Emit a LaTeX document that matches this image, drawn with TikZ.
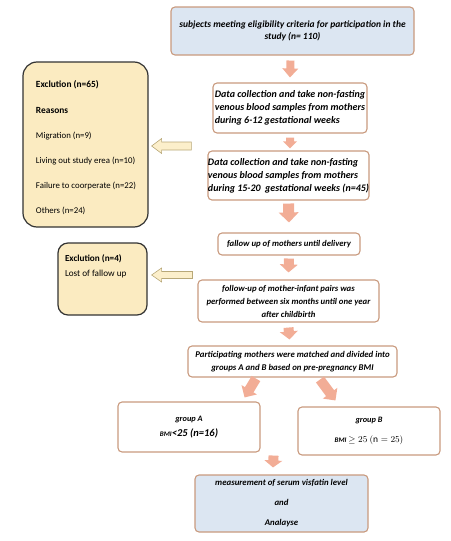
\documentclass[tikz,border=0pt]{standalone}
\usepackage{fontspec}
\setmainfont{Carlito}
\usetikzlibrary{calc}
\definecolor{blueF}{HTML}{DCE6F2}
\definecolor{tanB}{HTML}{C99A7E}
\definecolor{yelF}{HTML}{FBEBC1}
\definecolor{salm}{HTML}{F2AD96}
\definecolor{holF}{HTML}{FCEFCB}
\definecolor{holB}{HTML}{B8A878}
\newcommand{\fatarr}[6]{% style, start, end, shaft half width, head half width, head length
  \path[#1] let \p1=(#2), \p2=(#3), \n1={atan2(\y2-\y1,\x2-\x1)} in
    ($(\p1)+({\n1+90}:#4pt)$) -- ($(\p2)+({\n1}:-#6pt)+({\n1+90}:#4pt)$)
    -- ($(\p2)+({\n1}:-#6pt)+({\n1+90}:#5pt)$) -- (\p2)
    -- ($(\p2)+({\n1}:-#6pt)+({\n1-90}:#5pt)$) -- ($(\p2)+({\n1}:-#6pt)+({\n1-90}:#4pt)$)
    -- ($(\p1)+({\n1-90}:#4pt)$) -- cycle;}
\tikzset{
  mainbox/.style={draw=tanB, line width=1.1pt, rounded corners=4pt, fill=white,
    inner sep=0pt, align=center, font=\bfseries\itshape\fontsize{8.7}{13}\selectfont},
  bluebox/.style={mainbox, fill=blueF},
  exbox/.style={draw=black!80, line width=1.2pt, fill=yelF, inner sep=0pt},
  salmarrow/.style={fill=salm},
  holarrow/.style={fill=holF, draw=holB, line width=0.6pt},
}
\begin{document}
\begin{tikzpicture}[x=1pt,y=-1pt]
\useasboundingbox (0,0) rectangle (450,541);
% main column
\node[bluebox, minimum width=243pt, minimum height=48pt, font=\bfseries\itshape\fontsize{9.5}{12}\selectfont] (top) at (292.5,31)
  {subjects meeting eligibility criteria for participation in the\\study (n= 110)};
\node[mainbox, minimum width=154pt, minimum height=50pt, align=left, font=\bfseries\itshape\fontsize{10}{13}\selectfont] (b2) at (290,108)
  {Data collection and take non-fasting\\venous blood samples from mothers\\during 6-12 gestational weeks};
\node[mainbox, minimum width=159pt, minimum height=49pt, align=left, font=\bfseries\itshape\fontsize{10}{13}\selectfont] (b3) at (288.5,175.5)
  {Data collection and take non-fasting\\venous blood samples from mothers\\during 15-20 \ gestational weeks (n=45)};
\node[mainbox, minimum width=142pt, minimum height=22pt, font=\bfseries\itshape\fontsize{8.7}{13}\selectfont] (b4) at (289,244)
  {fallow up of mothers until delivery};
\node[mainbox, minimum width=181pt, minimum height=42pt] (b5) at (288.5,301)
  {follow-up of mother-infant pairs was\\performed between six months until one year\\after childbirth};
\node[mainbox, minimum width=209pt, minimum height=31pt, font=\bfseries\itshape\fontsize{8.8}{12.5}\selectfont] (b6) at (292.5,361.5)
  {Participating mothers were matched and divided into\\groups A and B based on pre-pregnancy BMI};
\node[mainbox, minimum width=142pt, minimum height=50pt, font=\bfseries\itshape\fontsize{8.3}{15}\selectfont] (gA) at (189,427)
  {group A\\{\fontsize{7}{15}\selectfont BMI}{\fontsize{10.5}{15}\selectfont<25 (n=16)}};
\node[mainbox, minimum width=142pt, minimum height=48pt, font=\bfseries\itshape\fontsize{8.3}{20}\selectfont] (gB) at (369,431)
  {group B\\{\fontsize{7}{20}\selectfont BMI} {\fontsize{9.5}{20}\selectfont\upshape$\geq 25\ (\mathrm{n} = 25)$}};
\node[bluebox, minimum width=173pt, minimum height=57pt, font=\bfseries\itshape\fontsize{8.8}{20}\selectfont] (bot) at (281.5,503.5)
  {measurement of serum visfatin level\\and\\Analayse};
% exclusion boxes
\node[exbox, rounded corners=14pt, minimum width=125pt, minimum height=165pt] (ex1) at (85.5,144.5)
  {\parbox[c][165pt][t]{125pt}{\raggedright\leftskip=13pt\fontsize{8.8}{25.2}\selectfont\vspace*{19pt}%
   {\fontsize{9.4}{25.2}\selectfont\textbf{Exclution (n=65)}}\\
   {\fontsize{9.4}{25.2}\selectfont\textbf{Reasons}}\\
   Migration (n=9)\\Living out study erea (n=10)\\Failure to coorperate (n=22)\\Others (n=24)}};
\node[exbox, rounded corners=10pt, minimum width=89pt, minimum height=72pt] (ex2) at (102.5,279)
  {\parbox[c][72pt][t]{89pt}{\raggedright\leftskip=7pt\fontsize{9.2}{15}\selectfont\vspace*{12pt}%
   \textbf{Exclution (n=4)}\\Lost of fallow up}};
% salmon arrows
\fatarr{salmarrow}{$(top.south)+(-2,5)$}{$(b2.north)+(0,-5)$}{4}{8}{9}
\fatarr{salmarrow}{$(b2.south)+(0,4)$}{$(b3.north)+(1.5,-2)$}{4}{7}{7}
\fatarr{salmarrow}{$(b3.south)+(0,3)$}{$(b4.north)+(0,-10)$}{5.5}{10}{10}
\fatarr{salmarrow}{$(b4.south)+(0,3)$}{$(b5.north)+(0,-7)$}{5}{9}{8}
\fatarr{salmarrow}{$(b5.south)+(0,5)$}{$(b6.north)+(-3,-6)$}{5}{9}{8}
\fatarr{salmarrow}{$(b6.south)+(-36.5,1)$}{$(gA.north east)+(-16,-4)$}{5}{9}{9}
\fatarr{salmarrow}{$(b6.south)+(27.5,2)$}{$(gB.north west)+(38,-6)$}{5}{9}{9}
\fatarr{salmarrow}{$(gA.south east)+(13,3)$}{$(bot.north)+(-8.5,-7)$}{5}{9}{7}
% hollow arrows
\fatarr{holarrow}{$(b3.west)+(-16,-29.5)$}{$(ex1.east)+(3,1.5)$}{4}{7.5}{10}
\fatarr{holarrow}{$(b5.west)+(-5,-26)$}{$(ex2.east)+(4,-4)$}{3.5}{7}{10}
\end{tikzpicture}
\end{document}
